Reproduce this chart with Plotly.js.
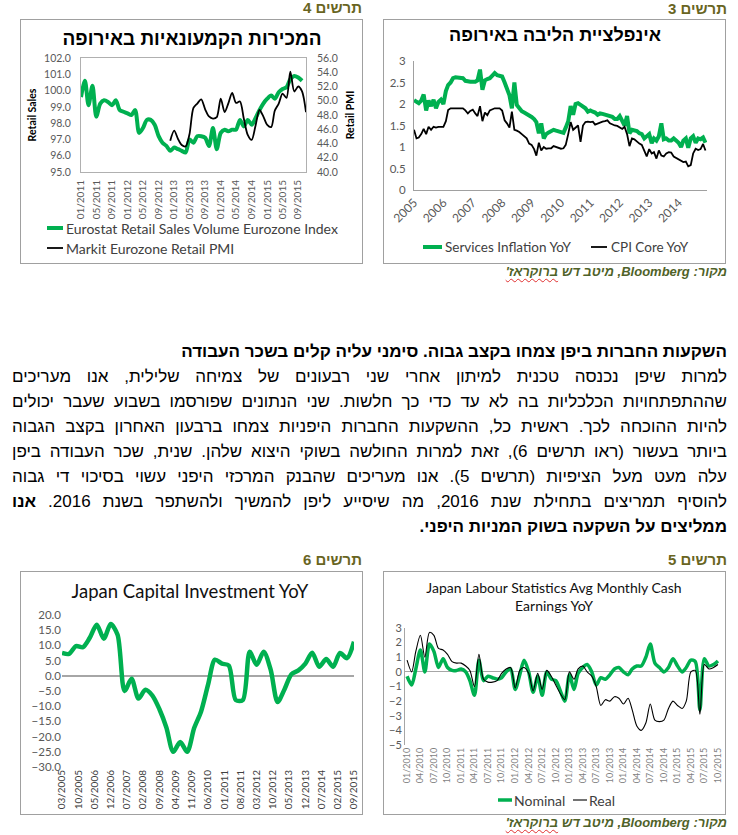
<!DOCTYPE html>
<html>
<head>
<meta charset="utf-8">
<script src="https://cdn.plot.ly/plotly-3.0.1.min.js"></script>
<style>
  html, body { margin:0; padding:0; background:#fff; }
  body { width:738px; height:835px; position:relative; overflow:hidden; font-family:"Liberation Sans", Arial, "DejaVu Sans", sans-serif; }
  .chart { position:absolute; }
  .frame { position:absolute; border:1px solid #a0a0a0; box-sizing:border-box; pointer-events:none; }
  .hdr { position:absolute; direction:rtl; font-weight:bold; font-size:15px; line-height:16px; color:#69651f; white-space:nowrap; }
  .src { position:absolute; direction:rtl; font-weight:bold; font-style:italic; font-size:13px; line-height:15px; color:#4f6228; white-space:nowrap; }
  .src .sq { text-decoration: underline wavy #e03030; text-decoration-thickness:1px; text-underline-offset:2px; }
  #txt { position:absolute; left:12px; width:715px; top:339px; direction:rtl; font-size:17px; line-height:25px; color:#000; }
  #txt .ln { height:25px; white-space:nowrap; }
  #txt .j { text-align:justify; text-align-last:justify; }
  #txt .r { text-align:right; }
  #txt .b { font-weight:bold; }
</style>
</head>
<body>

<div class="hdr" style="right:376px; top:0px;">תרשים 4</div>
<div class="hdr" style="right:11px; top:1px;">תרשים 3</div>
<div class="hdr" style="right:376px; top:552px;">תרשים 6</div>
<div class="hdr" style="right:11px; top:552px;">תרשים 5</div>

<div id="c4" class="chart" style="left:20px; top:19px;"></div>
<div id="c3" class="chart" style="left:383px; top:19px;"></div>
<div id="c6" class="chart" style="left:20px; top:571px;"></div>
<div id="c5" class="chart" style="left:383px; top:571px;"></div>

<div class="frame" style="left:20px; top:19px; width:343px; height:245px;"></div>
<div class="frame" style="left:383px; top:19px; width:343px; height:245px;"></div>
<div class="frame" style="left:20px; top:571px; width:343px; height:244px;"></div>
<div class="frame" style="left:383px; top:571px; width:343px; height:244px;"></div>

<div class="src" style="right:11px; top:264px;">מקור: Bloomberg, מיטב דש <span class="sq">ברוקראז'</span></div>
<div class="src" style="right:11px; top:815px;">מקור: Bloomberg, מיטב דש <span class="sq">ברוקראז'</span></div>

<div id="txt">
  <div class="ln r b">השקעות החברות ביפן צמחו בקצב גבוה. סימני עליה קלים בשכר העבודה</div>
  <div class="ln j">למרות שיפן נכנסה טכנית למיתון אחרי שני רבעונים של צמיחה שלילית, אנו מעריכים</div>
  <div class="ln j">שההתפתחויות הכלכליות בה לא עד כדי כך חלשות. שני הנתונים שפורסמו בשבוע שעבר יכולים</div>
  <div class="ln j">להיות ההוכחה לכך. ראשית כל, ההשקעות החברות היפניות צמחו ברבעון האחרון בקצב הגבוה</div>
  <div class="ln j">ביותר בעשור (ראו תרשים 6), זאת למרות החולשה בשוקי היצוא שלהן. שנית, שכר העבודה ביפן</div>
  <div class="ln j">עלה מעט מעל הציפיות (תרשים 5). אנו מעריכים שהבנק המרכזי היפני עשוי בסיכוי די גבוה</div>
  <div class="ln j">להוסיף תמריצים בתחילת שנת 2016, מה שיסייע ליפן להמשיך ולהשתפר בשנת 2016. <b>אנו</b></div>
  <div class="ln r b">ממליצים על השקעה בשוק המניות היפני.</div>
</div>

<script>
// ---------------- DATA ----------------
// Chart 4: Eurozone retail (monthly, from 01/2011)
var retailSalesStart = [2011, 1];
var retailSales = [99.6,100.6,99.1,100.3,98.4,99.2,99.4,99.3,99.1,99.4,
                   98.8,98.7,98.6,98.5,98.8,97.4,97.7,98.2,98.2,97.9,
                   97.2,96.8,96.6,96.3,96.5,96.4,96.3,96.2,97.0,96.8,
                   97.2,97.2,97.1,96.6,97.7,96.4,97.4,97.6,97.5,97.6,
                   97.6,98.2,97.8,98.2,97.9,98.3,98.8,99.2,99.5,99.7,
                   99.5,99.9,100.1,100.2,100.7,100.9,100.8,100.6];
var retailPMIStart = [2012, 12];
var retailPMI = [44.4,45.8,44.6,43.8,43.6,45.3,49.0,49.6,50.2,48.8,
                 47.8,47.5,47.7,50.3,48.4,49.6,51.1,49.7,49.9,47.5,
                 45.2,44.5,46.5,48.7,47.8,46.6,46.3,48.6,49.6,51.0,
                 50.4,54.1,51.3,52.0,51.3,48.4];
var retailSalesName = 'Eurostat Retail Sales Volume Eurozone Index';
var retailPMIName = 'Markit Eurozone Retail PMI';

// Chart 3: Eurozone core inflation (monthly, from 01/2005)
var inflStart = [2005, 1];
var servicesInfl = [2.09,2.05,2.02,2.08,2.22,1.85,2.08,1.95,2.10,1.90,
                    2.05,2.10,2.00,2.30,2.44,2.50,2.60,2.62,2.62,2.62,
                    2.60,2.54,2.52,2.52,2.52,2.52,2.55,2.80,2.33,2.55,
                    2.58,2.60,2.66,2.72,2.67,2.65,2.64,2.50,2.38,2.20,
                    1.90,2.50,1.98,1.90,1.83,1.80,1.77,1.75,1.70,1.65,
                    1.58,1.32,1.55,1.20,1.30,1.34,1.36,1.40,1.38,1.36,
                    1.35,1.33,1.45,1.60,1.95,1.75,2.00,2.02,1.98,1.95,
                    1.90,1.82,1.85,1.82,1.80,1.75,1.78,1.77,1.75,1.75,
                    1.72,1.70,1.65,1.65,1.72,1.60,1.50,1.72,1.32,1.40,
                    1.38,1.37,1.32,1.30,1.20,1.25,1.30,1.09,1.20,1.15,
                    1.25,1.55,1.18,1.20,1.15,1.15,1.20,1.15,1.10,1.00,
                    1.15,1.20,0.98,1.20,1.25,1.10,1.20,1.18,1.22,1.10];
var coreCPI = [1.40,1.20,1.22,1.30,1.42,1.30,1.47,1.40,1.47,1.45,
               1.47,1.47,1.47,1.60,1.86,1.90,1.90,1.90,1.90,1.90,
               1.90,1.85,1.78,1.84,1.87,1.78,1.72,1.95,1.60,1.80,
               1.74,1.85,1.88,1.90,1.90,1.90,1.85,1.62,1.55,1.45,
               1.82,1.40,1.38,1.35,1.30,1.25,1.20,1.08,1.05,0.95,
               0.80,1.10,0.92,1.00,0.96,0.97,0.97,1.02,1.00,0.98,
               0.96,0.97,1.05,1.30,1.58,1.40,1.45,1.50,1.12,1.50,
               1.58,1.59,1.58,1.59,1.52,1.55,1.57,1.59,1.60,1.62,
               1.55,1.52,1.50,1.49,1.45,1.42,1.47,1.30,1.02,1.20,
               1.18,1.12,1.08,1.05,0.90,0.78,0.95,0.85,0.88,0.73,
               0.92,0.80,0.78,0.85,0.88,0.87,0.78,0.75,0.72,0.68,
               0.65,0.66,0.55,0.58,0.85,0.96,0.93,0.95,1.07,0.92];
var servicesName = 'Services Inflation YoY';
var coreName = 'CPI Core YoY';

// Chart 6: Japan capital investment YoY (quarterly, from 03/2005)
var capexStart = [2005, 3];
var capex = [7.5,7.2,9.8,9.4,12.5,16.8,12.2,17.0,13.5,-5.0,
             -1.0,-7.5,-4.6,-6.5,-11.0,-17.0,-25.0,-21.8,-25.0,-17.2,
             -11.8,-3.0,5.3,4.0,3.4,-8.0,-8.0,7.9,3.6,7.9,
             2.0,-8.6,-4.5,0.5,1.8,4.0,7.6,3.0,5.5,3.0,
             7.5,5.8,11.2];

// Chart 5: Japan avg monthly cash earnings YoY (monthly, from 01/2010)
var earnStart = [2010, 1];
var nominal = [-0.3,-0.9,0.2,1.5,0.0,1.9,1.4,0.3,0.9,0.3,
               0.1,0.1,0.2,0.0,-0.6,-1.6,0.8,-0.6,-0.3,-0.4,
               -0.5,-0.4,0.0,0.2,-1.2,-0.2,0.8,0.0,-1.4,-0.3,
               -1.6,0.0,-0.5,-0.6,-1.3,-2.0,-0.2,-1.2,-0.1,0.3,
               0.5,0.0,-0.9,-0.4,-0.5,-0.2,0.2,0.3,0.0,-0.2,
               0.2,0.4,0.4,1.0,1.9,0.6,0.3,0.0,0.3,0.9,
               0.4,0.0,0.3,0.8,0.7,-2.6,0.9,0.4,0.5,0.75];
var real = [0.8,0.0,1.4,2.5,1.0,2.7,2.5,1.6,1.5,1.2,
            0.7,0.6,0.6,0.4,0.1,-1.0,1.2,-0.5,-0.7,-0.7,
            -0.6,-0.1,0.2,0.3,-1.1,0.1,0.3,-0.1,-1.3,-0.1,
            -1.2,0.1,-0.3,-0.9,-1.5,-1.9,0.0,-0.5,0.2,0.4,
            0.0,-0.3,-1.0,-2.3,-1.9,-2.0,-1.7,-1.8,-2.2,-1.8,
            -2.6,-3.7,-4.0,-3.5,-2.2,-3.3,-3.4,-3.3,-2.5,-2.0,
            -2.3,-2.5,-2.0,0.0,0.1,-2.9,0.5,0.2,0.3,0.5];
var nominalName = 'Nominal';
var realName = 'Real';

// ---------------- HELPERS ----------------
function monthSeq(start, n, step) {
  step = step || 1;
  var out = [];
  for (var i = 0; i < n; i++) {
    var t = (start[1] - 1) + i * step;
    var yy = start[0] + Math.floor(t / 12), mm = t % 12 + 1;
    out.push(yy + '-' + (mm < 10 ? '0' : '') + mm + '-01');
  }
  return out;
}
function px2x(px, m, W) { return (px - m.l) / (W - m.l - m.r); }
function px2y(py, m, H) { return 1 - (py - m.t) / (H - m.t - m.b); }
// legend entry drawn as a short line sample + text (pixel positions inside the chart div)
function legendEntry(m, W, H, x0, x1, tx, py, color, width, text, font) {
  var y = px2y(py, m, H);
  return {
    shape: { type: 'line', xref: 'paper', yref: 'paper', x0: px2x(x0, m, W), x1: px2x(x1, m, W), y0: y, y1: y,
             line: { color: color, width: width } },
    ann: { text: text, xref: 'paper', yref: 'paper', x: px2x(tx, m, W), y: y, xanchor: 'left', yanchor: 'middle',
           showarrow: false, font: font }
  };
}

var GREEN = '#00b050';
var LAT = 'Lato, "Open Sans", sans-serif';
var HEB = '"Liberation Sans", Arial, "DejaVu Sans", sans-serif';
var TICKC = '#595959';
var cfg = { staticPlot: true, displayModeBar: false };

// ---------------- CHART 4 ----------------
(function () {
  var W = 343, H = 245, m = { l: 61, r: 57, t: 39, b: 92 };
  var traces = [
    { x: monthSeq(retailSalesStart, retailSales.length), y: retailSales, name: retailSalesName, showlegend: false,
      type: 'scatter', mode: 'lines', line: { color: GREEN, width: 4, shape: 'spline', smoothing: 0.8 } },
    { x: monthSeq(retailPMIStart, retailPMI.length), y: retailPMI, name: retailPMIName, yaxis: 'y2', showlegend: false,
      type: 'scatter', mode: 'lines', line: { color: '#000', width: 1.8, shape: 'spline', smoothing: 0.8 } }
  ];
  var lf = { family: LAT, size: 14, color: '#404040' };
  var e1 = legendEntry(m, W, H, 27, 43, 44, 209, GREEN, 4, retailSalesName, lf);
  var e2 = legendEntry(m, W, H, 27, 43, 44, 229, '#000', 1.8, retailPMIName, lf);
  var layout = {
    width: W, height: H, margin: m, paper_bgcolor: '#fff', plot_bgcolor: '#fff', showlegend: false,
    title: { text: '<b>המכירות הקמעונאיות באירופה</b>', font: { family: HEB, size: 19, color: '#000' },
             x: 172 / W, xref: 'container', xanchor: 'center', y: 1 - 19 / H, yref: 'container', yanchor: 'middle' },
    xaxis: { type: 'date', range: ['2011-01-01', '2015-11-01'], tick0: '2011-01-01', dtick: 'M4', tickformat: '%m/%Y',
             tickangle: -90, tickfont: { family: LAT, size: 10, color: TICKC }, showgrid: false, zeroline: false,
             showline: true, mirror: true, linecolor: '#b0b0b0', linewidth: 1, ticks: '', ticklabelstandoff: 3 },
    yaxis: { range: [95, 102], dtick: 1, tickformat: '.1f', showgrid: false, zeroline: false,
             showline: true, mirror: true, linecolor: '#b0b0b0', linewidth: 1, ticks: '', ticklabelstandoff: 7,
             tickfont: { family: LAT, size: 10.5, color: TICKC },
             title: { text: '<b>Retail Sales</b>', font: { family: LAT, size: 10.5, color: '#000' }, standoff: 5 } },
    yaxis2: { overlaying: 'y', side: 'right', range: [40, 56], dtick: 2, tickformat: '.1f', showgrid: false, zeroline: false,
              showline: false, ticks: '', ticklabelstandoff: 10, tickfont: { family: LAT, size: 10.5, color: TICKC },
              title: { text: '<b>Retail PMI</b>', font: { family: LAT, size: 10.5, color: '#000' }, standoff: 9 } },
    shapes: [e1.shape, e2.shape],
    annotations: [e1.ann, e2.ann]
  };
  Plotly.newPlot('c4', traces, layout, cfg);
})();

// ---------------- CHART 3 ----------------
(function () {
  var W = 343, H = 245, m = { l: 31, r: 19, t: 42, b: 74 };
  var xs = monthSeq(inflStart, servicesInfl.length);
  var traces = [
    { x: xs, y: servicesInfl, name: servicesName, showlegend: false,
      type: 'scatter', mode: 'lines', line: { color: GREEN, width: 4 } },
    { x: xs, y: coreCPI, name: coreName, showlegend: false,
      type: 'scatter', mode: 'lines', line: { color: '#000', width: 1.8 } }
  ];
  var lf = { family: LAT, size: 13.5, color: '#404040' };
  var e1 = legendEntry(m, W, H, 40, 59, 60, 228, GREEN, 4, servicesName, lf);
  var e2 = legendEntry(m, W, H, 208, 224, 226, 228, '#000', 1.8, coreName, lf);
  var layout = {
    width: W, height: H, margin: m, paper_bgcolor: '#fff', plot_bgcolor: '#fff', showlegend: false,
    title: { text: '<b>אינפלציית הליבה באירופה</b>', font: { family: HEB, size: 18, color: '#000' },
             x: 172 / W, xref: 'container', xanchor: 'center', y: 1 - 16 / H, yref: 'container', yanchor: 'middle' },
    xaxis: { type: 'date', range: ['2005-01-01', '2014-12-20'], tick0: '2005-01-01', dtick: 'M12', tickformat: '%Y',
             tickangle: -45, tickfont: { family: LAT, size: 12, color: TICKC }, showgrid: false, zeroline: false,
             showline: true, linecolor: '#a0a0a0', linewidth: 1, ticks: '' },
    yaxis: { range: [0, 3], dtick: 0.5, showgrid: false, zeroline: false, showline: true, linecolor: '#a0a0a0',
             linewidth: 1, ticks: '', ticklabelstandoff: 5, tickfont: { family: LAT, size: 11.5, color: TICKC } },
    shapes: [e1.shape, e2.shape],
    annotations: [e1.ann, e2.ann]
  };
  Plotly.newPlot('c3', traces, layout, cfg);
})();

// ---------------- CHART 6 ----------------
(function () {
  var W = 343, H = 244, m = { l: 42, r: 9, t: 44, b: 48 };
  var traces = [
    { x: monthSeq(capexStart, capex.length, 3), y: capex, name: 'Japan Capital Investment YoY',
      type: 'scatter', mode: 'lines', line: { color: GREEN, width: 4.5, shape: 'spline', smoothing: 0.8 } }
  ];
  var layout = {
    width: W, height: H, margin: m, paper_bgcolor: '#fff', plot_bgcolor: '#fff', showlegend: false,
    title: { text: 'Japan Capital Investment YoY', font: { family: LAT, size: 18.5, color: '#111' },
             x: 170 / W, xref: 'container', xanchor: 'center', y: 1 - 21 / H, yref: 'container', yanchor: 'middle' },
    xaxis: { type: 'date', range: ['2005-03-01', '2015-09-01'], tick0: '2005-03-01', dtick: 'M7', tickformat: '%m/%Y',
             tickangle: -90, tickfont: { family: LAT, size: 10, color: '#404040' }, showgrid: false, zeroline: false,
             showline: false, ticks: '' },
    yaxis: { range: [-30, 20], dtick: 5, tickformat: '.1f', showgrid: false, zeroline: true, zerolinecolor: '#a6a6a6',
             zerolinewidth: 1.5, showline: false, ticks: '', tickfont: { family: LAT, size: 11.5, color: TICKC } }
  };
  Plotly.newPlot('c6', traces, layout, cfg);
})();

// ---------------- CHART 5 ----------------
(function () {
  var W = 343, H = 244, m = { l: 22, r: 3, t: 57, b: 70 };
  var xs = monthSeq(earnStart, nominal.length);
  var traces = [
    { x: xs, y: nominal, name: nominalName, showlegend: false,
      type: 'scatter', mode: 'lines', line: { color: GREEN, width: 3.5, shape: 'spline', smoothing: 0.8 } },
    { x: xs, y: real, name: realName, showlegend: false,
      type: 'scatter', mode: 'lines', line: { color: '#000', width: 1.1, shape: 'spline', smoothing: 0.8 } }
  ];
  var lf = { family: LAT, size: 14, color: '#404040' };
  var e1 = legendEntry(m, W, H, 115, 129, 129, 229, GREEN, 3.5, nominalName, lf);
  var e2 = legendEntry(m, W, H, 190, 204, 204, 229, '#000', 1.1, realName, lf);
  var layout = {
    width: W, height: H, margin: m, paper_bgcolor: '#fff', plot_bgcolor: '#fff', showlegend: false,
    title: { text: 'Japan Labour Statistics Avg Monthly Cash<br>Earnings YoY', font: { family: LAT, size: 14, color: '#111' },
             x: 171 / W, xref: 'container', xanchor: 'center', y: 1 - 21.5 / H, yref: 'container', yanchor: 'middle' },
    xaxis: { type: 'date', range: ['2009-12-18', '2015-11-04'], tick0: '2010-01-01', dtick: 'M3', tickformat: '%m/%Y',
             tickangle: -90, tickfont: { family: LAT, size: 9, color: '#7f7f7f' }, showgrid: false, zeroline: false,
             showline: false, ticks: '' },
    yaxis: { range: [-5, 3], dtick: 1, showgrid: false, zeroline: true, zerolinecolor: '#a6a6a6', zerolinewidth: 1.2,
             showline: true, linecolor: '#a6a6a6', linewidth: 1, ticks: '', tickfont: { family: LAT, size: 11, color: TICKC } },
    shapes: [e1.shape, e2.shape],
    annotations: [e1.ann, e2.ann]
  };
  Plotly.newPlot('c5', traces, layout, cfg);
})();
</script>
</body>
</html>
